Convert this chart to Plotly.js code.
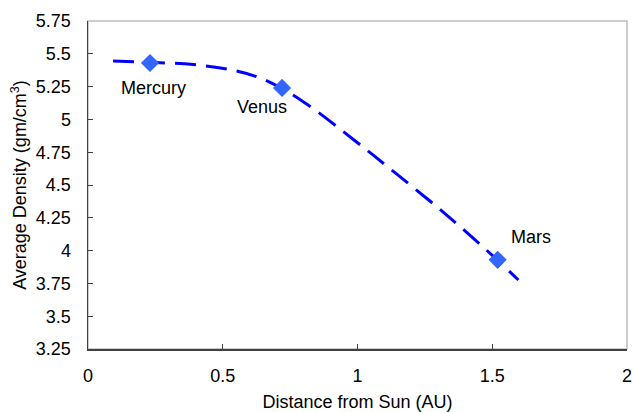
<!DOCTYPE html>
<html>
<head>
<meta charset="utf-8">
<script src="https://cdn.plot.ly/plotly-3.0.1.min.js"></script>
<style>html,body{margin:0;padding:0;background:#fff;}#chart{width:633px;height:412px;}</style>
</head>
<body>
<div id="chart"></div>
<script>
// Planets (data points)
const planetNames = ["Mercury", "Venus", "Mars"];
const planetDistance = [0.23, 0.72, 1.52];
const planetDensity = [5.43, 5.24, 3.93];

// Trend curve
const curveX = [0.093, 0.23, 0.39, 0.533, 0.65, 0.793, 0.987, 1.139, 1.331, 1.516, 1.597];
const curveY = [5.445, 5.435, 5.418, 5.377, 5.306, 5.143, 4.843, 4.594, 4.271, 3.934, 3.776];

// Label positions
const labelX = [0.243, 0.644, 1.642];
const labelY = [5.239, 5.095, 4.104];

const xTicks = [0, 0.5, 1, 1.5, 2];
const yTicks = [3.25, 3.5, 3.75, 4, 4.25, 4.5, 4.75, 5, 5.25, 5.5, 5.75];

const font = {family: "Liberation Sans, Arial, sans-serif", size: 18, color: "#000"};

const traces = [
  {
    x: curveX, y: curveY, type: "scatter", mode: "lines",
    line: {color: "#0000ff", width: 3, dash: "21px,10px", shape: "spline", smoothing: 1},
    hoverinfo: "skip"
  },
  {
    x: planetDistance, y: planetDensity, type: "scatter", mode: "markers",
    marker: {symbol: "diamond", size: 14, color: "#3366ff"}
  }
];

const annotations = planetNames.map((n, i) => ({
  x: labelX[i], y: labelY[i], xref: "x", yref: "y", text: n,
  showarrow: false, font: font, xanchor: "center", yanchor: "middle"
}));

const layout = {
  width: 633, height: 412,
  margin: {l: 88, r: 6, t: 21, b: 63},
  paper_bgcolor: "#fff", plot_bgcolor: "#fff",
  showlegend: false,
  font: font,
  xaxis: {
    range: [0, 2], tickvals: xTicks, ticktext: xTicks.map(String),
    showgrid: false, zeroline: false,
    showline: true, linecolor: "#404040", linewidth: 1.5,
    ticks: "inside", ticklen: 5, tickcolor: "#404040", tickwidth: 1,
    tickfont: font, ticklabelstandoff: 10,
    title: {text: "Distance from Sun (AU)", font: font, standoff: 20}
  },
  yaxis: {
    range: [3.25, 5.75], tickvals: yTicks, ticktext: yTicks.map(String),
    showgrid: false, zeroline: false,
    showline: true, linecolor: "#404040", linewidth: 1.5,
    ticks: "inside", ticklen: 5, tickcolor: "#404040", tickwidth: 1,
    tickfont: font, ticklabelstandoff: 12,
    title: {text: "Average Density (gm/cm<sup>3</sup>)", font: font, standoff: 4}
  },
  shapes: [{
    type: "rect", xref: "paper", yref: "paper", x0: 0, x1: 1, y0: 0, y1: 1,
    line: {color: "#bfbfbf", width: 1.5}, layer: "below"
  }],
  annotations: annotations
};

Plotly.newPlot("chart", traces, layout, {displayModeBar: false, staticPlot: true});
</script>
</body>
</html>
